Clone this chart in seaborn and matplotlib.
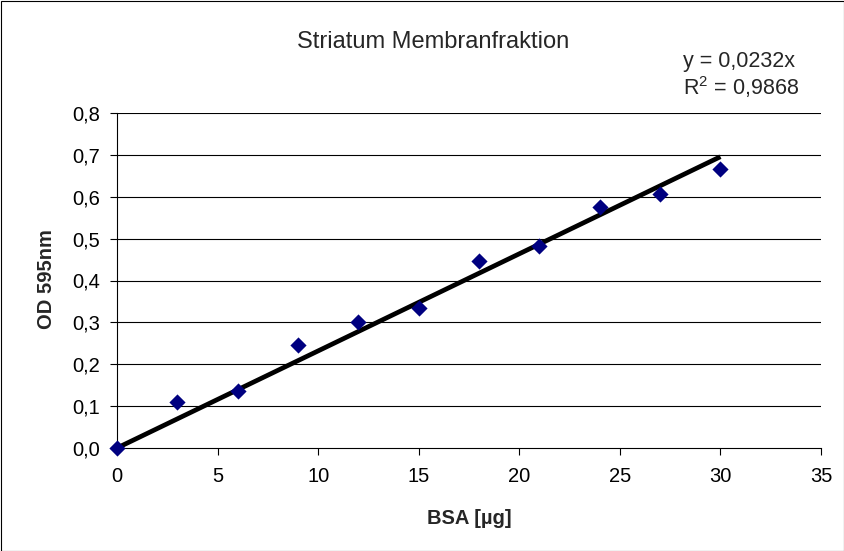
import numpy as np
import pandas as pd
import matplotlib
matplotlib.use("Agg")
import matplotlib.pyplot as plt
import seaborn as sns
from matplotlib.patches import Rectangle

# Data
bsa = [0, 3, 6, 9, 12, 15, 18, 21, 24, 27, 30]
od595 = [0.0, 0.11, 0.135, 0.246, 0.30, 0.334, 0.447, 0.483, 0.576, 0.607, 0.666]
x_ticks = [0, 5, 10, 15, 20, 25, 30, 35]
y_ticks = [0.0, 0.1, 0.2, 0.3, 0.4, 0.5, 0.6, 0.7, 0.8]
y_tick_labels = ["0,0", "0,1", "0,2", "0,3", "0,4", "0,5", "0,6", "0,7", "0,8"]
title = "Striatum Membranfraktion"
eq_text = "y = 0,0232x"
r2_text = "R$^2$ = 0,9868"

sns.set_theme(style="white")
plt.rcParams["font.family"] = ["Liberation Sans", "DejaVu Sans"]
plt.rcParams["mathtext.fontset"] = "custom"
plt.rcParams["mathtext.rm"] = "Liberation Sans"

W, H = 845, 551
fig = plt.figure(figsize=(W / 100, H / 100), dpi=100)
fig.patch.set_facecolor("white")
fig.patches.append(Rectangle((0.5 / W, 0.5 / H), 1 - 1.5 / W, 1 - 1.5 / H,
                             transform=fig.transFigure, fill=False,
                             edgecolor="black", linewidth=0.8))

left, right, top, bottom = 117, 821, 113, 448
ax = fig.add_axes([left / W, 1 - bottom / H, (right - left) / W, (bottom - top) / H])

df = pd.DataFrame({"BSA": bsa, "OD": od595})

# Linear trend through origin
x = np.array(bsa, dtype=float)
y = np.array(od595, dtype=float)
slope = (x * y).sum() / (x * x).sum()
ax.plot([x.min(), x.max()], [slope * x.min(), slope * x.max()], color="black",
        linewidth=3.4, solid_capstyle="butt", zorder=3, clip_on=False)

sns.scatterplot(data=df, x="BSA", y="OD", marker="D", s=68, color="#000080",
                edgecolor="#000080", linewidth=0, ax=ax, zorder=4, clip_on=False)

ax.set_xlim(0, 35)
ax.set_ylim(0, 0.8)
ax.set_xticks(x_ticks)
ax.set_xticklabels([str(t) for t in x_ticks])
ax.set_yticks(y_ticks)
ax.set_yticklabels(y_tick_labels)

for yv in y_ticks[1:]:
    ax.axhline(yv, color="black", linewidth=0.8, zorder=1)

for s in ["top", "right"]:
    ax.spines[s].set_visible(False)
for s in ["left", "bottom"]:
    ax.spines[s].set_color("black")
    ax.spines[s].set_linewidth(0.8)

ax.tick_params(axis="both", which="major", direction="out", length=5, width=0.8,
               color="black", labelsize=14.5, labelcolor="black", left=True, bottom=True)
ax.tick_params(axis="x", pad=9)
ax.tick_params(axis="y", pad=7)

ax.set_xlabel("BSA [µg]", fontsize=14.5, fontweight="bold", va="center")
ax.set_ylabel("OD 595nm", fontsize=14.5, fontweight="bold", va="center")
ax.xaxis.set_label_coords(469 / W, 1 - 518 / H, transform=fig.transFigure)
ax.yaxis.set_label_coords(47 / W, 1 - 279 / H, transform=fig.transFigure)

fig.text(433 / W, 1 - 42 / H, title, fontsize=17, ha="center", va="center")
fig.text(683 / W, 1 - 62 / H, eq_text, fontsize=15.5, ha="left", va="center")
fig.text(683 / W, 1 - 87 / H, r2_text, fontsize=15.5, ha="left", va="center")

fig.savefig("out.png", dpi=100, facecolor="white")
